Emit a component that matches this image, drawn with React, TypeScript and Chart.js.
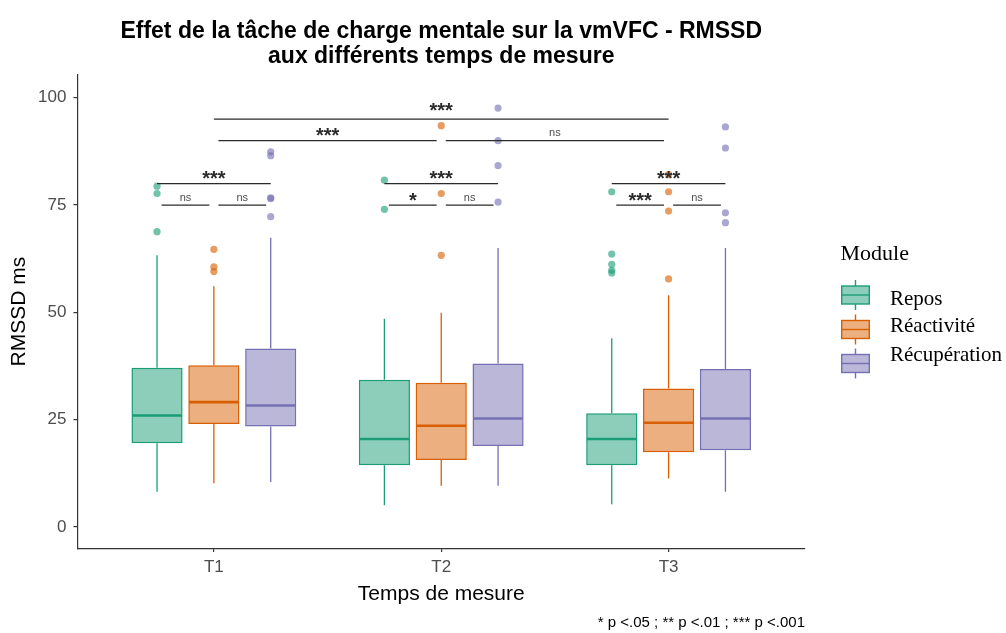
import { useEffect, useRef } from 'react';
import { Chart, registerables } from 'chart.js';

Chart.register(...registerables);

const SANS = '"Liberation Sans", Arial, Helvetica, sans-serif';
const SERIF = '"Liberation Serif", "Times New Roman", Times, serif';

// ---------- data ----------
const timepoints = ['T1', 'T2', 'T3'];
const modules = ['Repos', 'Réactivité', 'Récupération'];
const moduleColors = ['#1B9E77', '#D95F02', '#7570B3'];
const moduleFills = ['rgba(27,158,119,0.5)', 'rgba(217,95,2,0.5)', 'rgba(117,112,179,0.5)'];
const outlierFills = ['rgba(27,158,119,0.62)', 'rgba(217,95,2,0.62)', 'rgba(117,112,179,0.62)'];

// rows = module (Repos, Réactivité, Récupération), columns = T1, T2, T3
const whiskerLow = [
  [8.2, 5.1, 5.3],
  [10.2, 9.6, 11.3],
  [10.5, 9.6, 8.2],
];
const q1 = [
  [19.5, 14.4, 14.4],
  [24.0, 15.6, 17.4],
  [23.4, 18.9, 17.9],
];
const median = [
  [26.0, 20.5, 20.5],
  [29.1, 23.6, 24.3],
  [28.3, 25.3, 25.3],
];
const q3 = [
  [37.1, 34.3, 26.5],
  [37.7, 33.6, 32.3],
  [41.6, 38.1, 36.8],
];
const whiskerHigh = [
  [63.3, 48.5, 44.0],
  [56.1, 49.9, 54.0],
  [67.4, 65.0, 65.0],
];
const reposOutliers = [[68.8, 77.7, 79.4], [74.0, 80.8], [59.2, 59.8, 61.2, 63.6, 78.1]];
const reactiviteOutliers = [[59.5, 60.6, 64.7], [63.3, 77.7, 93.5], [57.8, 73.6, 78.1, 82.1]];
const recuperationOutliers = [[72.3, 76.5, 76.7, 86.5, 87.4], [75.7, 84.2, 90.0, 97.6], [70.9, 73.2, 88.3, 93.2]];
const outliers = [reposOutliers, reactiviteOutliers, recuperationOutliers];

const yTicks = [0, 25, 50, 75, 100];

// significance brackets inside each time point (module index pairs)
const withinPairs = [[0, 2], [0, 1], [1, 2]];
const withinLevels = [80, 75, 75];
const withinLabels = [
  ['***', 'ns', 'ns'],
  ['***', '*', 'ns'],
  ['***', '***', 'ns'],
];
// brackets between time points (time index pairs)
const betweenPairs = [[0, 2], [0, 1], [1, 2]];
const betweenLevels = [95, 90, 90];
const betweenLabels = ['***', '***', 'ns'];

const footnote = '* p <.05 ; ** p <.01 ; *** p <.001';

// ---------- style / layout constants ----------
const DODGE = 0.25;
const SHRINK = 0.02;
const betweenLift = [4, 0, 0];

const pos = (j: number, i: number) => j + 1 + (i - 1) * DODGE;

function drawBracket(chart: any, x1: number, x2: number, yv: number, label: string, lift: number) {
  const { ctx } = chart;
  const xs = chart.scales.x;
  const ys = chart.scales.y;
  const px1 = xs.getPixelForValue(x1);
  const px2 = xs.getPixelForValue(x2);
  const py = ys.getPixelForValue(yv);
  ctx.save();
  ctx.strokeStyle = '#2a2a2a';
  ctx.lineWidth = 1.3;
  ctx.beginPath();
  ctx.moveTo(px1, py);
  ctx.lineTo(px2, py);
  ctx.stroke();
  ctx.textAlign = 'center';
  ctx.textBaseline = 'alphabetic';
  const cx = (px1 + px2) / 2;
  if (label === 'ns') {
    ctx.font = `11px ${SANS}`;
    ctx.fillStyle = '#4D4D4D';
    ctx.fillText(label, cx, py - 4.5 - lift);
  } else {
    ctx.font = `bold 20px ${SANS}`;
    ctx.fillStyle = '#2b2b2b';
    ctx.fillText(label, cx, py + 1.5 - lift);
  }
  ctx.restore();
}

function drawBoxGlyph(ctx: CanvasRenderingContext2D, cx: number, cy: number, i: number) {
  const w = 27.6;
  const h = 18;
  const wh = 6;
  ctx.save();
  ctx.strokeStyle = moduleColors[i];
  ctx.lineWidth = 1.4;
  ctx.beginPath();
  ctx.moveTo(cx, cy - h / 2 - wh);
  ctx.lineTo(cx, cy - h / 2);
  ctx.moveTo(cx, cy + h / 2);
  ctx.lineTo(cx, cy + h / 2 + wh);
  ctx.stroke();
  ctx.fillStyle = moduleFills[i];
  ctx.fillRect(cx - w / 2, cy - h / 2, w, h);
  ctx.strokeRect(cx - w / 2, cy - h / 2, w, h);
  ctx.beginPath();
  ctx.moveTo(cx - w / 2, cy);
  ctx.lineTo(cx + w / 2, cy);
  ctx.stroke();
  ctx.restore();
}

const boxplotPlugin = {
  id: 'boxplotExtras',
  beforeDatasetsDraw(chart: any) {
    const { ctx } = chart;
    const ys = chart.scales.y;
    modules.forEach((_, i) => {
      const meta = chart.getDatasetMeta(i);
      meta.data.forEach((bar: any, j: number) => {
        const x = bar.x;
        ctx.save();
        ctx.strokeStyle = moduleColors[i];
        ctx.lineWidth = 1.3;
        ctx.beginPath();
        ctx.moveTo(x, ys.getPixelForValue(q3[i][j]));
        ctx.lineTo(x, ys.getPixelForValue(whiskerHigh[i][j]));
        ctx.moveTo(x, ys.getPixelForValue(q1[i][j]));
        ctx.lineTo(x, ys.getPixelForValue(whiskerLow[i][j]));
        ctx.stroke();
        ctx.restore();
      });
    });
  },
  afterDatasetsDraw(chart: any) {
    const { ctx } = chart;
    const ys = chart.scales.y;
    modules.forEach((_, i) => {
      const meta = chart.getDatasetMeta(i);
      meta.data.forEach((bar: any, j: number) => {
        const y = ys.getPixelForValue(median[i][j]);
        ctx.save();
        ctx.strokeStyle = moduleColors[i];
        ctx.lineWidth = 2.6;
        ctx.beginPath();
        ctx.moveTo(bar.x - bar.width / 2 + 0.7, y);
        ctx.lineTo(bar.x + bar.width / 2 - 0.7, y);
        ctx.stroke();
        ctx.restore();
      });
    });
    withinPairs.forEach(([a, b], k) => {
      const adj = b - a === 1 ? SHRINK : 0;
      timepoints.forEach((_, j) => {
        drawBracket(chart, pos(j, a) + adj, pos(j, b) - adj, withinLevels[k], withinLabels[j][k], 0);
      });
    });
    betweenPairs.forEach(([a, b], k) => {
      const adj = b - a === 1 ? SHRINK : 0;
      drawBracket(chart, a + 1 + adj, b + 1 - adj, betweenLevels[k], betweenLabels[k], betweenLift[k]);
    });
  },
  afterDraw(chart: any) {
    const { ctx } = chart;
    const left = chart.chartArea.right + 35.5;
    ctx.save();
    ctx.fillStyle = '#000';
    ctx.textAlign = 'left';
    ctx.textBaseline = 'alphabetic';
    ctx.font = `22px ${SERIF}`;
    ctx.fillText('Module', left, 259.5);
    const iconCenters = [295, 329.5, 363.5];
    const textBaselines = [304.5, 332, 361];
    modules.forEach((m, i) => {
      drawBoxGlyph(ctx, left + 15, iconCenters[i], i);
      ctx.font = `21px ${SERIF}`;
      ctx.fillStyle = '#000';
      ctx.fillText(m, left + 49.5, textBaselines[i]);
    });
    ctx.restore();
  },
};

export default function App() {
  const ref = useRef<HTMLCanvasElement | null>(null);
  useEffect(() => {
    if (!ref.current) return;
    const axisGrid = {
      display: true,
      drawOnChartArea: false,
      drawTicks: true,
      tickLength: 4,
      color: '#333333',
      lineWidth: 1.2,
      offset: false,
    };
    const axisBorder = { display: true, color: '#333333', width: 1.2 };
    const datasets: any[] = [
      ...modules.map((m, i) => ({
        type: 'bar',
        label: m,
        data: timepoints.map((_, j) => ({ x: pos(j, i), y: [q1[i][j], q3[i][j]] })),
        backgroundColor: moduleFills[i],
        borderColor: moduleColors[i],
        borderWidth: 1.5,
        borderSkipped: false,
        grouped: false,
        categoryPercentage: 1,
        barPercentage: 0.9,
      })),
      ...modules.map((m, i) => ({
        type: 'scatter',
        label: m + ' (valeurs extrêmes)',
        data: outliers[i].flatMap((vals, j) => vals.map((v) => ({ x: pos(j, i), y: v }))),
        backgroundColor: outlierFills[i],
        borderWidth: 0,
        pointRadius: 3.6,
        pointHoverRadius: 3.6,
      })),
    ];
    const chart = new Chart(ref.current, {
      type: 'bar',
      data: { datasets },
      options: {
        animation: false,
        responsive: true,
        maintainAspectRatio: false,
        events: [],
        layout: { padding: { left: 0, right: 201, top: 0, bottom: 1 } },
        scales: {
          x: {
            type: 'linear',
            min: 0.4,
            max: 3.6,
            offset: false,
            afterBuildTicks: (scale: any) => {
              scale.ticks = timepoints.map((_, j) => ({ value: j + 1 }));
            },
            ticks: {
              callback: (_v: any, idx: number) => timepoints[idx],
              font: { family: SANS, size: 17, lineHeight: 1.2 },
              color: '#4D4D4D',
              padding: 5,
              autoSkip: false,
              maxRotation: 0,
            },
            grid: axisGrid,
            border: axisBorder,
            title: {
              display: true,
              text: 'Temps de mesure',
              color: '#000',
              font: { family: SANS, size: 21, lineHeight: 1.1 },
              padding: { top: 0, bottom: 0 },
            },
          },
          y: {
            type: 'linear',
            min: -4.9,
            max: 105.3,
            afterBuildTicks: (scale: any) => {
              scale.ticks = yTicks.map((v) => ({ value: v }));
            },
            ticks: {
              font: { family: SANS, size: 17, lineHeight: 1.2 },
              color: '#4D4D4D',
              padding: 7,
            },
            grid: axisGrid,
            border: axisBorder,
            title: {
              display: true,
              text: 'RMSSD ms',
              color: '#000',
              font: { family: SANS, size: 21, lineHeight: 1.1 },
              padding: { top: 8, bottom: 0 },
            },
          },
        },
        plugins: {
          legend: { display: false },
          tooltip: { enabled: false },
          title: {
            display: true,
            text: ['Effet de la tâche de charge mentale sur la vmVFC - RMSSD', 'aux différents temps de mesure'],
            fullSize: false,
            color: '#000',
            font: { family: SANS, size: 23, weight: 'bold', lineHeight: 1.1 },
            padding: { top: 19, bottom: 5.4 },
          },
          subtitle: {
            display: true,
            text: footnote,
            position: 'bottom',
            align: 'end',
            fullSize: false,
            color: '#000',
            font: { family: SANS, size: 15, lineHeight: 1.2 },
            padding: { top: 8.4, bottom: 0 },
          },
        },
      } as any,
      plugins: [boxplotPlugin],
    });
    return () => chart.destroy();
  }, []);
  return (
    <div style={{ position: 'fixed', left: 0, top: 0, width: 1006, height: 633, background: '#fff' }}>
      <canvas ref={ref} />
    </div>
  );
}
